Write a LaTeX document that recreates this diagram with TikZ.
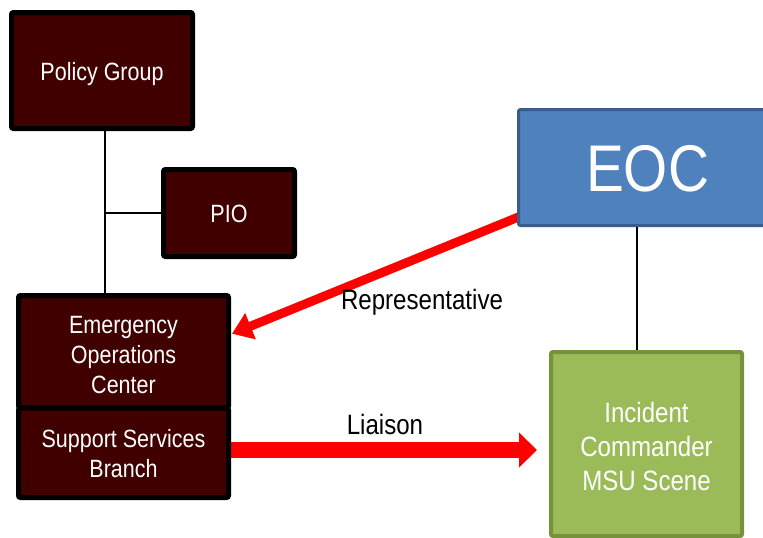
\documentclass[tikz,border=0pt]{standalone}
\usepackage{fontspec}
\setmainfont{Liberation Sans}[FakeStretch=0.86]
\usetikzlibrary{arrows.meta,backgrounds}
\definecolor{maroonfill}{RGB}{64,0,0}
\definecolor{eocfill}{RGB}{79,129,189}
\definecolor{eocborder}{RGB}{56,93,138}
\definecolor{icfill}{RGB}{155,187,89}
\definecolor{icborder}{RGB}{118,146,60}
\tikzset{
  box/.style={draw, rounded corners=2pt, inner sep=0pt, outer sep=0pt, align=center, text=white, text depth=0pt},
  maroonbox/.style={box, fill=maroonfill, draw=black, line width=5pt, font=\fontsize{25}{30}\selectfont},
  orgline/.style={draw=black, line width=1.5pt},
  redarrow/.style={draw=red, line width=#1},
  lbl/.style={anchor=base, inner sep=0pt, text=black, font=\fontsize{28}{32}\selectfont}
}
\begin{document}
\begin{tikzpicture}[x=1pt,y=-1pt]
\useasboundingbox (0,0) rectangle (763,538);
\clip (0,0) rectangle (763,538);
% nodes
\node[maroonbox, minimum width=181pt, minimum height=116pt, text height=19pt] (pg) at (102,70.5) {Policy Group};
\node[maroonbox, minimum width=131pt, minimum height=87pt, text height=18pt] (pio) at (229,213) {PIO};
\node[maroonbox, minimum width=210pt, minimum height=112.5pt, text height=84pt] (em) at (123.5,351.75) {Emergency\\Operations\\Center};
\node[maroonbox, minimum width=210pt, minimum height=89.5pt, text height=50pt] (ss) at (123.5,452.75) {Support Services\\Branch};
\node[box, fill=eocfill, draw=eocborder, line width=3pt, minimum width=258pt, minimum height=116pt, text height=47pt, font=\fontsize{66}{70}\selectfont] (eoc) at (647.5,167.5) {EOC};
\node[box, fill=icfill, draw=icborder, line width=4pt, minimum width=191pt, minimum height=184pt, text height=92pt, font=\fontsize{28}{34}\selectfont] (ic) at (646.5,444) {Incident\\Commander\\MSU Scene};
\node[lbl] (rep) at (422,309) {Representative};
\node[lbl] (lia) at (385,434) {Liaison};
\coordinate (trunkx) at (105,0);
\coordinate (vx) at (637,0);
% connectors
\begin{scope}[on background layer]
\draw[orgline] (pg.south -| trunkx) -- (em.north -| trunkx);
\draw[orgline] (pio.west) -- (pio.west -| trunkx);
\draw[orgline] (eoc.south -| vx) -- (ic.north -| vx);
\draw[redarrow=9pt, -{Triangle[length=20pt,width=27pt]}] ([yshift=8.5pt]eoc.south west) -- ([xshift=3.5pt,yshift=18pt]em.east);
\coordinate (lstart) at ([xshift=2.5pt,yshift=2.75pt]ss.east);
\draw[redarrow=16pt, -{Triangle[length=18pt,width=34pt]}] (lstart) -- ([xshift=-14pt]lstart -| ic.west);
\end{scope}
\end{tikzpicture}
\end{document}
